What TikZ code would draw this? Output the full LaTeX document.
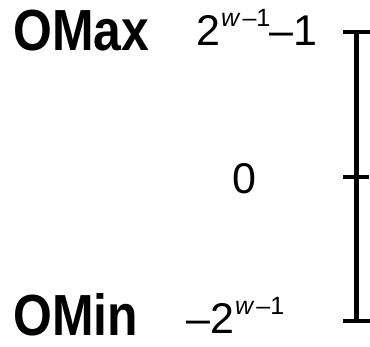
\documentclass[tikz,border=0pt]{standalone}
\usepackage{fontspec}
\usepackage{graphicx}
\setmainfont{Liberation Sans}
\newcommand{\mysupx}[1]{\raisebox{19pt}{\fontsize{25}{25}\selectfont #1}}
\tikzset{
  bigname/.style={anchor=base west, inner sep=0pt, font=\fontsize{58}{60}\selectfont\bfseries},
  val/.style={anchor=base west, inner sep=0pt, font=\fontsize{43}{48}\selectfont},
  axis/.style={line width=4.5pt, line cap=butt}
}
\begin{document}
\begin{tikzpicture}[x=1pt,y=1pt]
\useasboundingbox (0,0) rectangle (370,347);
\node[bigname] (omax) at (13,296) {\scalebox{0.86}[1]{OMax}};
\node[bigname] (omin) at (13,11) {\scalebox{0.86}[1]{OMin}};
\node[val] (vmax) at (196,301) {2\mysupx{\kern1pt\textit{w}\kern2pt–1}\kern-1pt–1};
\node[val] (vzero) at (232,153) {0};
\node[val] (vmin) at (186,13) {–2\mysupx{\kern1pt\textit{w}\kern2pt–1}};
\coordinate (top) at (356.5,315);
\coordinate (mid) at (356.5,170);
\coordinate (bot) at (356.5,26);
\coordinate (topL) at (343,315);
\coordinate (topR) at (370,315);
\coordinate (midL) at (343,170);
\coordinate (midR) at (369,170);
\coordinate (botL) at (343,26);
\coordinate (botR) at (370,26);
\draw[axis] ([yshift=2.25pt]top) -- ([yshift=-2.25pt]bot);
\draw[axis] (topL) -- (topR);
\draw[axis] (midL) -- (midR);
\draw[axis] (botL) -- (botR);
\end{tikzpicture}
\end{document}
